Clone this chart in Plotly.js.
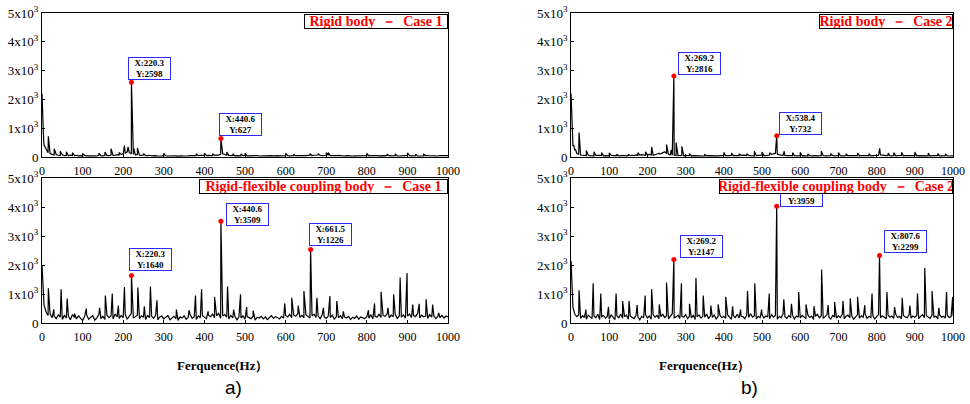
<!DOCTYPE html>
<html><head><meta charset="utf-8">
<script src="https://cdn.plot.ly/plotly-3.0.1.min.js"></script>
<style>html,body{margin:0;padding:0;background:#fff}#plot{width:970px;height:404px}</style>
</head><body><div id="plot"></div>
<script>
// ---------- data ----------
const STEP = 5; // Hz between noise-floor samples
const xTicks = [0,100,200,300,400,500,600,700,800,900,1000];
const yTickVals = [0,1000,2000,3000,4000,5000];
const yTickText = ["0","1x10<sup>3</sup>","2x10<sup>3</sup>","3x10<sup>3</sup>","4x10<sup>3</sup>","5x10<sup>3</sup>"];

// Rigid body - Case 1
const noiseTL = [2200,420,260,150,120,90,70,85,60,50,75,45,55,40,65,50,45,60,40,50,
35,55,40,45,30,50,40,35,55,45,40,60,50,45,70,55,60,80,65,90,
110,140,180,150,120,90,70,85,60,55,70,50,45,60,40,50,45,35,50,40,
45,35,40,50,35,45,40,30,45,40,35,50,40,45,55,40,50,45,60,55,
50,45,55,40,50,60,70,65,90,110,80,60,55,45,50,40,45,55,40,45,
50,40,45,35,40,50,45,35,40,45,50,40,35,45,40,50,45,40,35,45,
50,45,40,55,45,40,50,45,60,50,45,55,65,50,60,55,70,60,50,65,
60,55,45,50,40,45,55,40,45,35,50,40,45,35,40,45,35,40,45,50,
45,40,50,40,35,45,40,50,45,40,55,45,40,50,45,40,35,45,50,40,
55,45,40,50,45,40,35,45,40,50,45,40,35,45,40,35,45,40,35,40,45];
const peakF_TL = [2,4,8,15.6,30,45,60,75,100,140,155,170,190,203,212,220.3,226,235,250,300,380,400,420,440.6,455,470,490,500,600,620,660,680,700,705,800,850,870,900,920,940];
const peakA_TL = [900,600,350,720,290,200,180,150,120,130,175,290,160,400,350,2598,300,315,120,130,120,130,110,640,175,110,110,130,130,100,110,110,150,150,130,100,110,140,100,90];
const markX_TL = [220.3,440.6];
const markY_TL = [2598,640];
const labY_TL = ["2598","627"];

// Rigid-flexible coupling body - Case 1
const noiseBL = [2000,620,380,260,310,180,240,150,280,200,120,260,170,230,110,290,190,140,250,160,
90,220,280,130,200,250,100,180,300,150,230,120,270,190,240,140,310,210,160,260,
180,290,130,240,330,170,220,280,150,250,200,120,260,190,230,160,270,110,210,240,
140,200,260,110,180,230,150,90,210,170,250,130,190,280,160,220,120,240,180,260,
200,150,270,220,310,180,250,330,160,240,290,200,140,260,180,230,110,210,170,250,
130,220,190,150,240,100,200,170,230,140,210,120,180,250,160,220,190,140,230,170,
260,210,300,180,270,230,320,200,260,180,290,220,170,250,300,190,240,150,280,210,
160,240,190,270,130,220,180,250,140,210,170,230,120,200,160,240,130,210,180,150,
220,170,280,150,240,200,300,190,260,230,310,180,270,220,290,160,250,200,280,170,
240,310,190,260,220,330,180,270,210,240,160,290,200,250,150,230,190,260,170,240,210];
const peakF_BL = [15.6,29,47,62,80,109,142,156,173,188,203,220.3,236,252,267,283,331,362,378,393,409,425,440.6,457,472,489,504,520,598,615,631,645,661.5,677,693,709,726,742,804,819,835,852,866,882,899,913,929,946,962,977];
const peakA_BL = [1200,470,1160,840,330,500,520,950,1020,600,1240,1640,1220,580,1260,780,465,440,950,1160,400,900,3509,1260,465,990,550,430,675,870,600,1100,2535,870,520,930,755,400,440,675,1080,520,990,1570,1720,640,660,815,640,350];
const markX_BL = [220.3,440.6,661.5];
const markY_BL = [1640,3509,2535];
const labY_BL = ["1640","3509","1226"];

// Rigid body - Case 2
const noiseTR = [2200,380,240,130,90,70,60,75,50,60,45,55,40,50,60,45,55,40,50,45,
40,55,45,35,50,40,45,60,50,40,55,45,60,50,70,55,65,80,70,60,
75,90,70,60,80,100,130,110,140,180,120,90,75,60,70,55,50,45,55,40,
45,40,50,35,45,40,35,50,40,45,35,40,50,45,40,55,45,40,50,45,
55,45,50,40,55,50,45,60,50,55,65,50,60,55,45,50,40,45,55,50,
60,50,45,55,70,90,110,130,100,75,60,55,50,45,55,40,50,45,40,50,
45,40,50,45,35,45,40,50,45,40,55,45,50,40,45,35,45,50,40,45,
50,45,40,55,45,40,50,45,40,35,45,40,50,45,40,35,45,40,50,45,
55,60,70,65,50,45,55,40,50,45,40,50,45,55,40,45,50,40,45,50,
45,40,50,45,40,55,45,40,35,45,50,40,45,35,40,50,45,40,35,45,40];
const peakF_TR = [2,4,7,12,21,40,60,80,100,120,150,175,195,211,230,250,262,269.2,275,290,310,350,400,420,440,460,480,500,520,538.4,558,580,600,620,655,680,700,720,750,780,808,830,845,865,900,935,960,980];
const peakA_TR = [1200,700,400,250,850,230,180,150,140,100,100,150,180,350,120,430,250,2816,500,370,120,100,160,130,110,110,200,170,150,740,200,150,160,110,200,120,150,110,140,120,300,140,150,160,170,140,120,110];
const markX_TR = [269.2,538.4];
const markY_TR = [2816,740];
const labY_TR = ["2816","732"];

// Rigid-flexible coupling body - Case 2
const noiseBR = [2150,540,300,220,280,160,250,190,130,270,210,150,240,180,300,120,220,260,170,230,
140,280,200,120,250,180,310,160,220,270,130,240,190,150,260,210,110,230,180,290,
170,240,130,280,200,260,150,220,300,190,250,140,230,320,180,210,270,160,240,200,
290,150,230,180,260,120,210,280,170,240,200,310,150,250,190,270,140,220,260,180,
230,160,280,210,130,250,190,300,170,240,220,150,270,190,320,200,250,140,230,180,
280,170,240,210,150,290,200,260,130,230,180,310,220,160,250,190,270,140,240,200,
170,260,210,150,280,190,240,120,230,300,180,250,160,220,290,200,140,260,210,170,
250,190,300,150,230,270,180,240,130,210,280,170,250,200,310,160,230,190,260,140,
220,290,180,250,210,150,270,200,240,160,300,190,230,140,260,210,180,280,170,240,
200,260,150,230,290,180,250,210,160,270,190,240,140,280,200,230,170,260,190,220,250];
const peakF_BR = [21,39,58,78,98,118,135,152,173,194,211,231,250,269.2,289,310,327,346,366,385,405,423,444,462,481,499,519,538.4,557,577,596,615,636,656,673,690,712,731,750,769,788,807.6,827,847,867,887,907,926,945,963,983,999];
const peakA_BR = [1130,465,1370,1020,560,1020,755,755,615,950,1160,640,1395,2190,1370,660,1550,950,600,640,905,580,465,1100,1370,465,1020,4030,815,660,1070,640,580,1840,615,720,755,850,905,615,1020,2330,1070,550,870,600,1020,1900,1100,520,1070,900];
const markX_BR = [269.2,538.4,807.6];
const markY_BR = [2190,4030,2330];
const labY_BR = ["2147","3959","2299"];

const panelTitles = ["Rigid body  －  Case 1","Rigid-flexible coupling body  －  Case 1","Rigid body  －  Case 2","Rigid-flexible coupling body  －  Case 2"];
const xTitle = "Ferquence(Hz）";
const subLabels = ["a)","b)"];

// ---------- build ----------
function build(noise, pf, pa){
  const pts = noise.map((v,i)=>[i*STEP, v]);
  pf.forEach((f,i)=>pts.push([f, pa[i]]));
  pts.sort((a,b)=>a[0]-b[0]);
  return {x: pts.map(p=>p[0]), y: pts.map(p=>p[1])};
}
const FONT = "Liberation Serif";
const panels = [
  {n:noiseTL, pf:peakF_TL, pa:peakA_TL, mx:markX_TL, my:markY_TL, ly:labY_TL, ax:'', dx:[0.0433,0.4619], dy:[0.6114,0.9678],
   off:[[-3,2],[-2,3]], tw:142},
  {n:noiseBL, pf:peakF_BL, pa:peakA_BL, mx:markX_BL, my:markY_BL, ly:labY_BL, ax:'2', dx:[0.0433,0.4619], dy:[0.2005,0.5594],
   off:[[-2,4],[5,-5],[-2,3]], tw:247},
  {n:noiseTR, pf:peakF_TR, pa:peakA_TR, mx:markX_TR, my:markY_TR, ly:labY_TR, ax:'3', dx:[0.5887,0.9825], dy:[0.6114,0.9678],
   off:[[4,1],[2,1]], tw:132},
  {n:noiseBR, pf:peakF_BR, pa:peakA_BR, mx:markX_BR, my:markY_BR, ly:labY_BR, ax:'4', dx:[0.5887,0.9825], dy:[0.2005,0.5594],
   off:[[6,1],[3,-1],[4,2]], tw:232}
];
const traces = [], annotations = [], layout = {
  width:970, height:404, margin:{l:0,r:0,t:0,b:0}, showlegend:false,
  paper_bgcolor:'#fff', plot_bgcolor:'#fff', font:{family:FONT, color:'#000'}
};
panels.forEach((p,k)=>{
  const s = build(p.n, p.pf, p.pa);
  const xa = 'x'+p.ax, ya = 'y'+p.ax;
  traces.push({type:'scatter', mode:'lines', x:s.x, y:s.y, xaxis:xa, yaxis:ya,
    line:{color:'#000', width:1.2}, hoverinfo:'skip'});
  traces.push({type:'scatter', mode:'markers', x:p.mx, y:p.my, xaxis:xa, yaxis:ya,
    marker:{color:'#ff0000', size:5}, hoverinfo:'skip'});
  layout['xaxis'+p.ax] = {domain:p.dx, anchor:ya, range:[0,1000], tickvals:xTicks, ticktext:xTicks.map(String),
    showline:true, mirror:true, linecolor:'#000', linewidth:1, showgrid:false, zeroline:false,
    ticks:'inside', ticklen:3, tickcolor:'#000', ticklabelstandoff:3, tickfont:{family:FONT, size:12, color:'#000'}};
  layout['yaxis'+p.ax] = {domain:p.dy, anchor:xa, range:[0,5000], tickvals:yTickVals, ticktext:yTickText,
    showline:true, mirror:true, linecolor:'#000', linewidth:1, showgrid:false, zeroline:false,
    ticks:'inside', ticklen:3, tickcolor:'#000', tickfont:{family:FONT, size:13, color:'#000'}};
  p.mx.forEach((x,i)=>{
    annotations.push({xref:xa, yref:ya, x:x, y:p.my[i], xanchor:'left', yanchor:'bottom',
      xshift:p.off[i][0], yshift:p.off[i][1], showarrow:false,
      text:'<b>X:'+x+'<br>Y:'+p.ly[i]+'</b>', font:{family:FONT, size:9, color:'#000'},
      bgcolor:'#fff', bordercolor:'#2a2aff', borderwidth:1, borderpad:0, width:41, height:21});
  });
});
panels.forEach((p,k)=>{
  annotations.push({xref:'x'+p.ax+' domain', yref:'y'+p.ax+' domain', x:1, y:1, xanchor:'right', yanchor:'top',
    yshift:-1, showarrow:false, text:'<b>'+panelTitles[k]+'</b>', font:{family:FONT, size:14, color:'#ff0000'},
    bgcolor:'#fff', bordercolor:'#000', borderwidth:1, borderpad:0, width:p.tw, height:13});
});
[0,1].forEach(i=>{
  annotations.push({xref:'paper', yref:'paper', x:[0.229,0.726][i], y:1-365/404, xanchor:'center', yanchor:'middle',
    showarrow:false, text:'<b>'+xTitle+'</b>', font:{family:FONT, size:13, color:'#000'}});
  annotations.push({xref:'paper', yref:'paper', x:[0.241,0.773][i], y:1-387/404, xanchor:'center', yanchor:'middle',
    showarrow:false, text:subLabels[i], font:{family:'Liberation Sans', size:19, color:'#000'}});
});
layout.annotations = annotations;
Plotly.newPlot('plot', traces, layout, {staticPlot:true, displayModeBar:false});
</script></body></html>
